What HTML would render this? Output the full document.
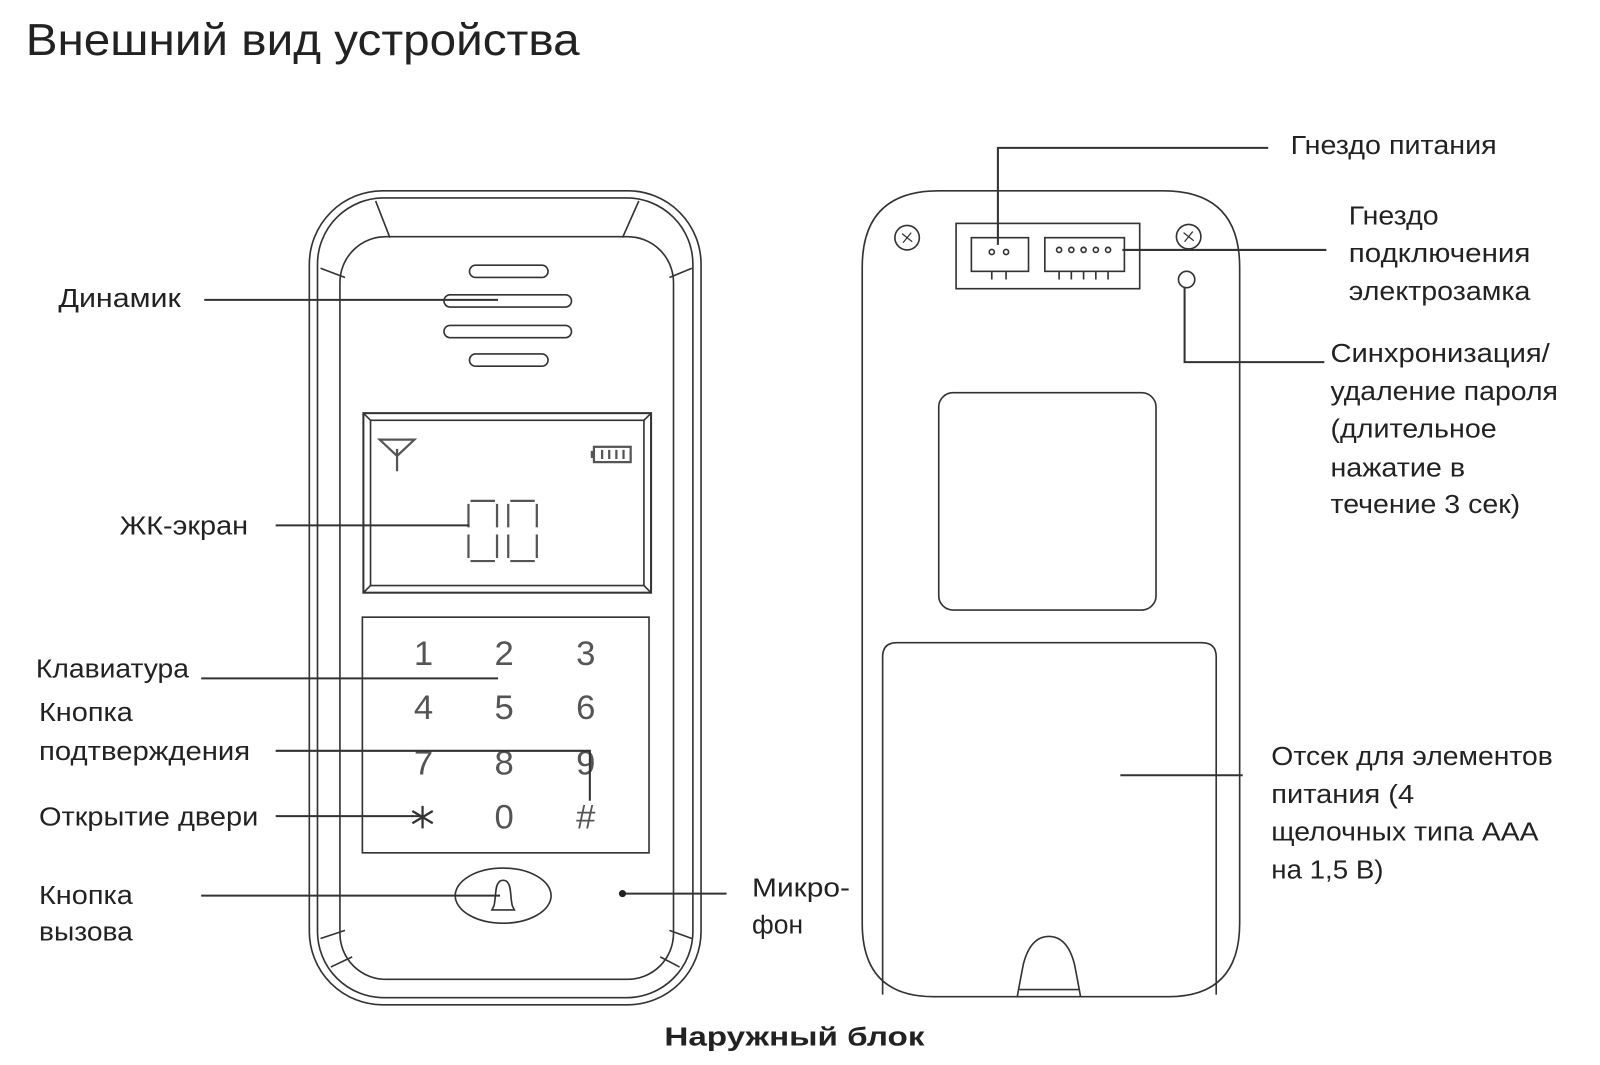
<!DOCTYPE html>
<html><head><meta charset="utf-8"><style>
html,body{margin:0;padding:0;background:#fff;}
svg{display:block}
text{font-family:"Liberation Sans","DejaVu Sans",sans-serif;fill:#222;}
</style></head><body>
<svg width="1600" height="1065" viewBox="0 0 1568 1044" xmlns="http://www.w3.org/2000/svg">
<g font-size="25">
<text x="25" y="54" font-size="44" fill="#000" textLength="543" lengthAdjust="spacingAndGlyphs">Внешний вид устройства</text>
<text x="1265" y="151" textLength="202" lengthAdjust="spacingAndGlyphs">Гнездо питания</text>
<text x="1322" y="220" textLength="88" lengthAdjust="spacingAndGlyphs">Гнездо</text>
<text x="1322" y="257" textLength="178" lengthAdjust="spacingAndGlyphs">подключения</text>
<text x="1322" y="294" textLength="178" lengthAdjust="spacingAndGlyphs">электрозамка</text>
<text x="1304" y="355" textLength="215" lengthAdjust="spacingAndGlyphs">Синхронизация/</text>
<text x="1304" y="392" textLength="223" lengthAdjust="spacingAndGlyphs">удаление пароля</text>
<text x="1304" y="429" textLength="163" lengthAdjust="spacingAndGlyphs">(длительное</text>
<text x="1304" y="467" textLength="132" lengthAdjust="spacingAndGlyphs">нажатие в</text>
<text x="1304" y="503" textLength="186" lengthAdjust="spacingAndGlyphs">течение 3 сек)</text>
<text x="57" y="301" textLength="120" lengthAdjust="spacingAndGlyphs">Динамик</text>
<text x="117" y="524" textLength="126" lengthAdjust="spacingAndGlyphs">ЖК-экран</text>
<text x="35" y="664" textLength="150" lengthAdjust="spacingAndGlyphs">Клавиатура</text>
<text x="38" y="707" textLength="92" lengthAdjust="spacingAndGlyphs">Кнопка</text>
<text x="38" y="745" textLength="207" lengthAdjust="spacingAndGlyphs">подтверждения</text>
<text x="38" y="809" textLength="215" lengthAdjust="spacingAndGlyphs">Открытие двери</text>
<text x="38" y="886" textLength="92" lengthAdjust="spacingAndGlyphs">Кнопка</text>
<text x="38" y="922" textLength="92" lengthAdjust="spacingAndGlyphs">вызова</text>
<text x="737" y="879" textLength="96" lengthAdjust="spacingAndGlyphs">Микро-</text>
<text x="737" y="915" textLength="50" lengthAdjust="spacingAndGlyphs">фон</text>
<text x="1246" y="750" textLength="276" lengthAdjust="spacingAndGlyphs">Отсек для элементов</text>
<text x="1246" y="787" textLength="140" lengthAdjust="spacingAndGlyphs">питания (4</text>
<text x="1246" y="824" textLength="262" lengthAdjust="spacingAndGlyphs">щелочных типа ААА</text>
<text x="1246" y="861" textLength="110" lengthAdjust="spacingAndGlyphs">на 1,5 В)</text>
<text x="651" y="1025" font-weight="bold" fill="#000" textLength="255" lengthAdjust="spacingAndGlyphs">Наружный блок</text>
</g>

<g fill="none" stroke="#333" stroke-width="1.6">
<rect x="303" y="187" width="384" height="798" rx="72"/>
<rect x="311" y="194" width="368" height="784" rx="65"/>
<rect x="333" y="232" width="327" height="728" rx="45"/>
<line x1="368" y1="197" x2="382" y2="233"/>
<line x1="626" y1="197" x2="610" y2="233"/>
<line x1="314" y1="263" x2="338" y2="272"/>
<line x1="678" y1="263" x2="656" y2="272"/>
<line x1="314" y1="920" x2="338" y2="912"/>
<line x1="678" y1="920" x2="656" y2="912"/>
<line x1="324" y1="948" x2="345" y2="938"/>
<line x1="666" y1="948" x2="647" y2="938"/>
<rect x="460" y="260" width="77" height="12" rx="6"/>
<rect x="435" y="289" width="125" height="12" rx="6"/>
<rect x="435" y="319" width="125" height="12" rx="6"/>
<rect x="460" y="347" width="77" height="12" rx="6"/>
<rect x="356" y="405" width="282" height="176" stroke-width="2"/>
<rect x="363" y="412" width="268" height="162"/>
<line x1="356" y1="405" x2="363" y2="412"/><line x1="638" y1="405" x2="631" y2="412"/>
<line x1="356" y1="581" x2="363" y2="574"/><line x1="638" y1="581" x2="631" y2="574"/>
<rect x="355" y="605" width="281" height="231"/>
<ellipse cx="493" cy="878" rx="47" ry="27"/>
<path d="M484 888 C486 880 485 870 488 866 C490 862 496 862 498 866 C501 870 500 880 502 888 L504 892 L482 892 Z"/>
<path d="M845 262 Q845 187 920 187 L1140 187 Q1215 187 1215 262 L1215 905 Q1215 977 1145 977 L915 977 Q845 977 845 905 Z"/>
<circle cx="889" cy="233" r="12"/><circle cx="1165" cy="232" r="12"/>
<path d="M884 229 L894 237 M893 228 L885 238" stroke-width="1.2"/>
<path d="M1160 228 L1170 236 M1169 227 L1161 237" stroke-width="1.2"/>
<rect x="937" y="219" width="180" height="64"/>
<rect x="952" y="233" width="56" height="33"/>
<rect x="1024" y="233" width="78" height="33"/>
<circle cx="972" cy="247" r="2.5"/><circle cx="986" cy="247" r="2.5"/>
<circle cx="1038" cy="245" r="2.5"/><circle cx="1050" cy="245" r="2.5"/><circle cx="1062" cy="245" r="2.5"/><circle cx="1074" cy="245" r="2.5"/><circle cx="1086" cy="245" r="2.5"/>
<path d="M972 266 V274 M986 266 V274 M1038 266 V274 M1050 266 V274 M1062 266 V274 M1074 266 V274 M1086 266 V274"/>
<circle cx="1163" cy="274" r="8"/>
<rect x="920" y="385" width="213" height="213" rx="14"/>
<path d="M865 975 V644 Q865 630 879 630 L1178 630 Q1192 630 1192 644 V975"/>
<path d="M997 977 Q1000 960 1003 945 Q1010 918 1028 918 Q1046 918 1053 945 Q1056 960 1059 977"/>
<line x1="999" y1="970" x2="1057" y2="970"/>
</g>

<g fill="none" stroke="#555" stroke-width="2.2">
<path d="M372 431 H406 L389 447 Z M389 440 V462"/>
<rect x="582" y="438" width="36" height="15"/>
<line x1="580" y1="442" x2="580" y2="449"/>
<path d="M590 441 V450 M597 441 V450 M604 441 V450 M611 441 V450"/>
<path d="M461 491 H485 M459 494 V517 M487 494 V517 M459 524 V547 M487 524 V547 M461 550 H485"/>
<path d="M500 491 H524 M498 494 V517 M526 494 V517 M498 524 V547 M526 524 V547 M500 550 H524"/>
</g>

<g font-size="34" fill="#555" text-anchor="middle">
<text x="415" y="652" style="fill:#555">1</text><text x="494" y="652" style="fill:#555">2</text><text x="574" y="652" style="fill:#555">3</text>
<text x="415" y="705" style="fill:#555">4</text><text x="494" y="705" style="fill:#555">5</text><text x="574" y="705" style="fill:#555">6</text>
<text x="415" y="759" style="fill:#555">7</text><text x="494" y="759" style="fill:#555">8</text><text x="574" y="759" style="fill:#555">9</text>
<text x="494" y="812" style="fill:#555">0</text><text x="574" y="812" style="fill:#555">#</text>
</g>
<path d="M414 790 V812 M404 795 L424 807 M424 795 L404 807" stroke="#333" stroke-width="2.2" fill="none"/>

<g fill="none" stroke="#333" stroke-width="2">
<line x1="200" y1="294" x2="488" y2="294"/>
<line x1="270" y1="515" x2="460" y2="515"/>
<line x1="197" y1="665" x2="488" y2="665"/>
<path d="M270 736 H578 V785"/>
<line x1="270" y1="800" x2="412" y2="800"/>
<line x1="197" y1="878" x2="490" y2="878"/>
<line x1="612" y1="876" x2="712" y2="876"/>
<path d="M978 240 V145 H1243"/>
<line x1="1100" y1="245" x2="1300" y2="245"/>
<path d="M1161 282 V355 H1298"/>
<line x1="1098" y1="760" x2="1218" y2="760"/>
</g>
<circle cx="610" cy="876" r="3.5" fill="#222"/>
</svg>
</body></html>
